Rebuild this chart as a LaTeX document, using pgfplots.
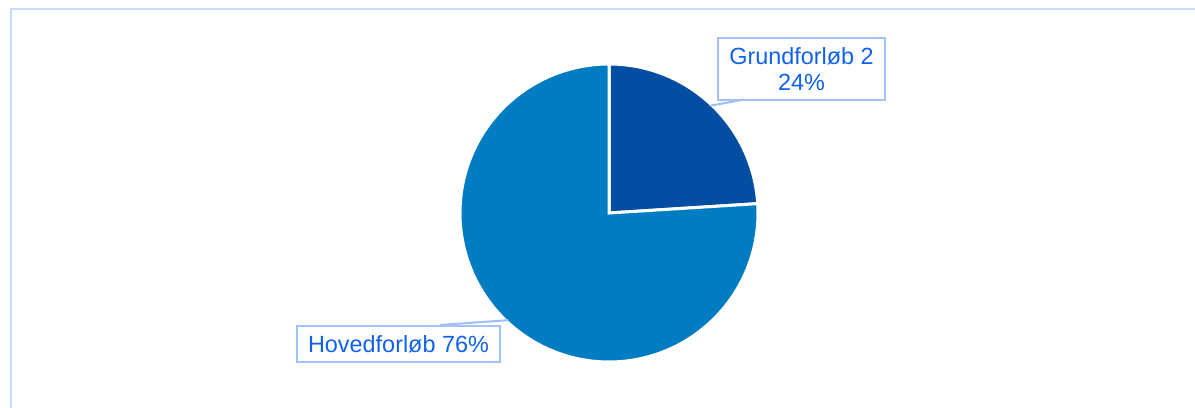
\documentclass[border=0pt]{standalone}
\usepackage{pgfplots}
\usepackage{pgfplotstable}
\pgfplotsset{compat=1.18}
\usepackage{fontspec}
\setmainfont{Liberation Sans}
\definecolor{dark}{HTML}{034EA2}
\definecolor{light}{HTML}{007CC3}
\definecolor{lbl}{HTML}{1062EC}
\definecolor{boxc}{HTML}{A3C2FA}
\definecolor{lead}{HTML}{9DBEF8}
\definecolor{frame}{HTML}{C6DBFF}
\pgfplotstableread{
label value
Grundforlob 24
Hovedforlob 76
}\piedata
\begin{document}
\begin{tikzpicture}
\pgfplotstablegetelem{0}{value}\of\piedata \let\va\pgfplotsretval
\pgfplotstablegetelem{1}{value}\of\piedata \let\vb\pgfplotsretval
\pgfmathsetmacro{\aend}{90-3.6*\va}
\pgfmathsetmacro{\bend}{90+3.6*\vb}
\pgfmathsetmacro{\amid}{90-1.8*\va}
\pgfmathsetmacro{\bmid}{\aend-1.8*\vb}
\begin{axis}[
  name=ax,
  width=1195bp, height=408bp, scale only axis,
  xmin=0, xmax=1195, ymin=0, ymax=408,
  hide axis, clip=false,
]
% frame
\addplot[draw=frame, line width=2bp] coordinates {(10.5,0) (10.5,399) (1195,399)};
% slices
\addplot[fill=dark, draw=white, line width=3bp, domain=\aend:90, samples=80]
  ({609+149*cos(x)},{195+149*sin(x)}) -- (axis cs:609,195) -- cycle;
\addplot[fill=light, draw=white, line width=3bp, domain=90:\bend, samples=200]
  ({609+149*cos(x)},{195+149*sin(x)}) -- (axis cs:609,195) -- cycle;
% leader lines
\draw[lead, line width=2bp] (axis cs:{609+147*cos(\amid)},{195+147*sin(\amid)}) -- (axis cs:745,308.5);
\draw[lead, line width=2bp] (axis cs:{609+147*cos(\bmid)},{195+147*sin(\bmid)}) -- (axis cs:440,83);
% labels
\node[draw=boxc, line width=1.3bp, fill=white, text=lbl, align=center,
  minimum width=167bp, minimum height=62bp, inner sep=0pt,
  font=\fontsize{23.5}{26}\selectfont] at (axis cs:801.5,339) {Grundforløb 2\\24\%};
\node[draw=boxc, line width=1.3bp, fill=white, text=lbl, align=center,
  minimum width=203bp, minimum height=36bp, inner sep=0pt,
  font=\fontsize{23.5}{26}\selectfont] at (axis cs:398.5,64) {Hovedforløb 76\%};
\end{axis}
\pgfresetboundingbox
\path[use as bounding box] (ax.south west) rectangle (ax.north east);
\end{tikzpicture}
\end{document}
